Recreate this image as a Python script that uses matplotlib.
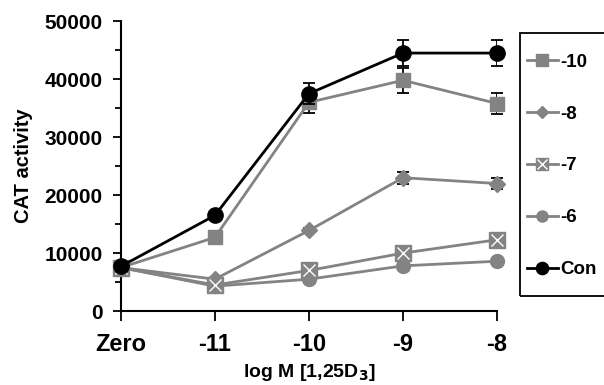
import matplotlib
matplotlib.use('Agg')
from matplotlib import pyplot as plt
from matplotlib.legend_handler import HandlerTuple
from matplotlib.patches import Rectangle

plt.rcParams['font.family'] = ['Liberation Sans', 'DejaVu Sans']
plt.rcParams['font.weight'] = 'bold'

x_labels = ['Zero', '-11', '-10', '-9', '-8']

s10 = [7500, 12700, 36000, 39800, 35800]
s10_err = [0, 0, 1800, 2200, 1800]
s8 = [7500, 5500, 13900, 23000, 22000]
s8_err = [0, 0, 500, 1000, 1000]
s7 = [7500, 4500, 7000, 10000, 12300]
s6 = [7500, 4300, 5500, 7800, 8600]
con = [7700, 16500, 37500, 44500, 44500]
con_err = [0, 0, 1800, 2200, 2200]

gray = '#838383'
xs = list(range(len(x_labels)))

fig = plt.figure(figsize=(6.04, 3.85), dpi=100)
ax = fig.add_axes([0.2, 0.192, 0.623, 0.753])

eb = dict(ecolor='black', elinewidth=1.3, capsize=4, capthick=1.3)

h10, = ax.plot(xs, s10, color=gray, lw=2, marker='s', ms=10, zorder=3)
ax.errorbar(xs, s10, yerr=s10_err, fmt='none', zorder=2, **eb)
h8, = ax.plot(xs, s8, color=gray, lw=2, marker='D', ms=8, zorder=3)
ax.errorbar(xs, s8, yerr=s8_err, fmt='none', zorder=2, **eb)
h7, = ax.plot(xs, s7, color=gray, lw=2, marker='s', ms=11, zorder=3)
h7x, = ax.plot(xs, s7, ls='none', marker='x', ms=9, mew=1, color='white', zorder=4)
h6, = ax.plot(xs, s6, color=gray, lw=2, marker='o', ms=10, zorder=3)
hc, = ax.plot(xs, con, color='black', lw=2, marker='o', ms=11, zorder=5)
ax.errorbar(xs, con, yerr=con_err, fmt='none', zorder=5, **eb)

ax.set_xlim(0, 4)
ax.set_ylim(0, 50000)
ax.set_yticks([0, 10000, 20000, 30000, 40000, 50000])
ax.set_yticks([5000, 15000, 25000, 35000, 45000], minor=True)
ax.set_xticks(xs)
ax.set_xticklabels(x_labels, fontsize=17, fontweight='bold')
ax.tick_params(axis='y', labelsize=15, width=1.3, length=6, pad=7)
ax.tick_params(axis='y', which='minor', width=1.3, length=4)
ax.tick_params(axis='x', width=1.3, length=7, pad=9)
for lab in ax.get_yticklabels():
    lab.set_fontweight('bold')
for s in ['top', 'right']:
    ax.spines[s].set_visible(False)
for s in ['left', 'bottom']:
    ax.spines[s].set_linewidth(1.5)
for a in ax.lines:
    a.set_clip_on(False)

ax.set_ylabel('CAT activity', fontsize=14.5, fontweight='bold', labelpad=8)
ax.set_xlabel(r'log M [1,25D$_\mathbf{3}$]', fontsize=14, fontweight='bold', labelpad=4)

# legend frame drawn separately (it runs off the right edge in the original)
fig.patches.append(Rectangle((0.861, 0.231), 0.2, 0.683, transform=fig.transFigure,
                             fill=False, edgecolor='black', lw=1.3))

leg = fig.legend([h10, h8, (h7, h7x), h6, hc], ['-10', '-8', '-7', '-6', 'Con'],
                 handler_map={tuple: HandlerTuple(ndivide=1)},
                 loc='upper left', bbox_to_anchor=(0.838, 0.914),
                 frameon=False,
                 prop={'size': 13.5, 'weight': 'bold'},
                 labelspacing=1.85, handlelength=1.65, handletextpad=0.15,
                 borderpad=1.1, borderaxespad=0, markerscale=0.8)

fig.savefig('out.png', dpi=100)
